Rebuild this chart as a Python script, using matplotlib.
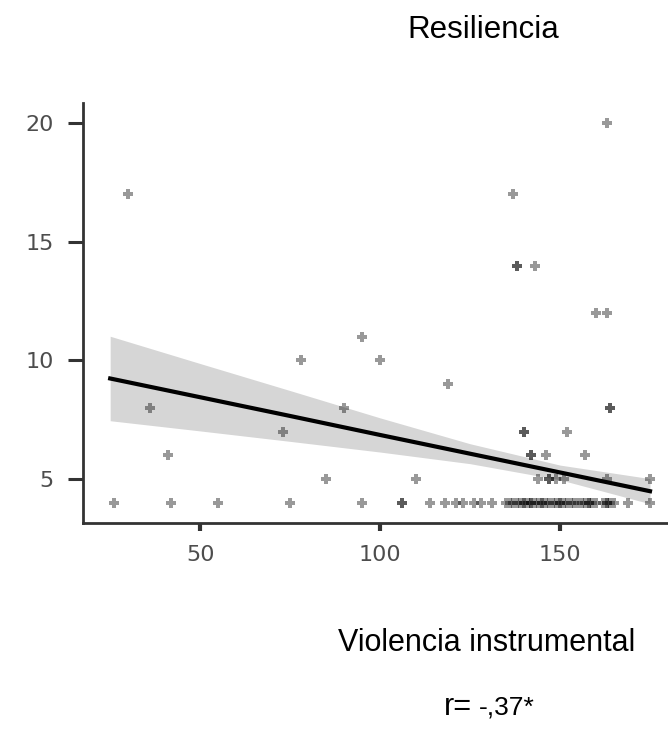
import numpy as np
from matplotlib import pyplot as plt

# Violencia instrumental (x) vs Resiliencia (y)
violencia = [30, 137, 138, 138, 143, 160, 163, 163, 95, 26, 36, 41, 42, 55, 73, 75, 78, 85, 90,
             100, 119, 110, 140, 140, 152, 164, 164, 142, 142, 146, 157,
             144, 147, 147, 149, 151, 163, 175,
             95, 106, 106, 114, 118, 121, 123, 126, 128, 131,
             135, 136, 137, 138, 139, 140, 140, 141, 142, 142, 143, 144, 145, 145,
             146, 147, 148, 149, 150, 150, 151, 152, 153, 154, 155, 156, 157, 158,
             158, 159, 160, 162, 163, 163, 164, 165, 169, 175]
resiliencia = [17, 17, 14, 14, 14, 12, 12, 20, 11, 4, 8, 6, 4, 4, 7, 4, 10, 5, 8,
               10, 9, 5, 7, 7, 7, 8, 8, 6, 6, 6, 6,
               5, 5, 5, 5, 5, 5, 5,
               4, 4, 4, 4, 4, 4, 4, 4, 4, 4,
               4, 4, 4, 4, 4, 4, 4, 4, 4, 4, 4, 4, 4, 4,
               4, 4, 4, 4, 4, 4, 4, 4, 4, 4, 4, 4, 4, 4,
               4, 4, 4, 4, 4, 4, 4, 4, 4, 4]

# linear trend and 95% band
fit_x = [25, 50, 75, 100, 125, 150, 175]
fit_y = [9.24, 8.45, 7.66, 6.86, 6.07, 5.28, 4.49]
ci_low = [7.46, 7.03, 6.59, 6.14, 5.65, 4.97, 3.96]
ci_high = [11.02, 9.87, 8.73, 7.58, 6.49, 5.59, 5.02]

plt.rcParams['font.family'] = ['Liberation Sans', 'DejaVu Sans']
fig = plt.figure(figsize=(6.68, 7.33), dpi=100)
ax = fig.add_axes([0.124, 0.2865, 0.876, 0.573])

ax.fill_between(fit_x, ci_low, ci_high, color='#d6d6d6', lw=0, zorder=1)
ax.plot(fit_x, fit_y, color='black', lw=3, zorder=3)
ax.plot(violencia, resiliencia, 'P', color='black', alpha=0.4, markersize=7, mew=0, zorder=2)

ax.set_xlim(17.4, 180)
ax.set_ylim(3.15, 20.85)
ax.set_xticks([50, 100, 150])
ax.set_yticks([5, 10, 15, 20])
for side in ['top', 'right']:
    ax.spines[side].set_visible(False)
for side in ['left', 'bottom']:
    ax.spines[side].set_linewidth(2)
    ax.spines[side].set_color('#333333')
ax.tick_params(axis='y', length=11, width=2.2, color='#333333', labelsize=16, labelcolor='#4d4d4d', pad=10)
ax.tick_params(axis='x', length=6, width=3, color='#333333', labelsize=16, labelcolor='#4d4d4d', pad=10)
for lab in ax.get_xticklabels() + ax.get_yticklabels():
    lab.set_family('DejaVu Sans')

fig.text(0.723, 0.959, 'Resiliencia', fontsize=22.5, ha='center', va='center')
fig.text(0.729, 0.123, 'Violencia instrumental', fontsize=22, ha='center', va='center')
fig.text(0.707, 0.0246, 'r=', fontsize=22, ha='right', va='baseline')
fig.text(0.717, 0.0246, '-,37*', fontsize=19, ha='left', va='baseline')

plt.savefig('out.png', dpi=100)
